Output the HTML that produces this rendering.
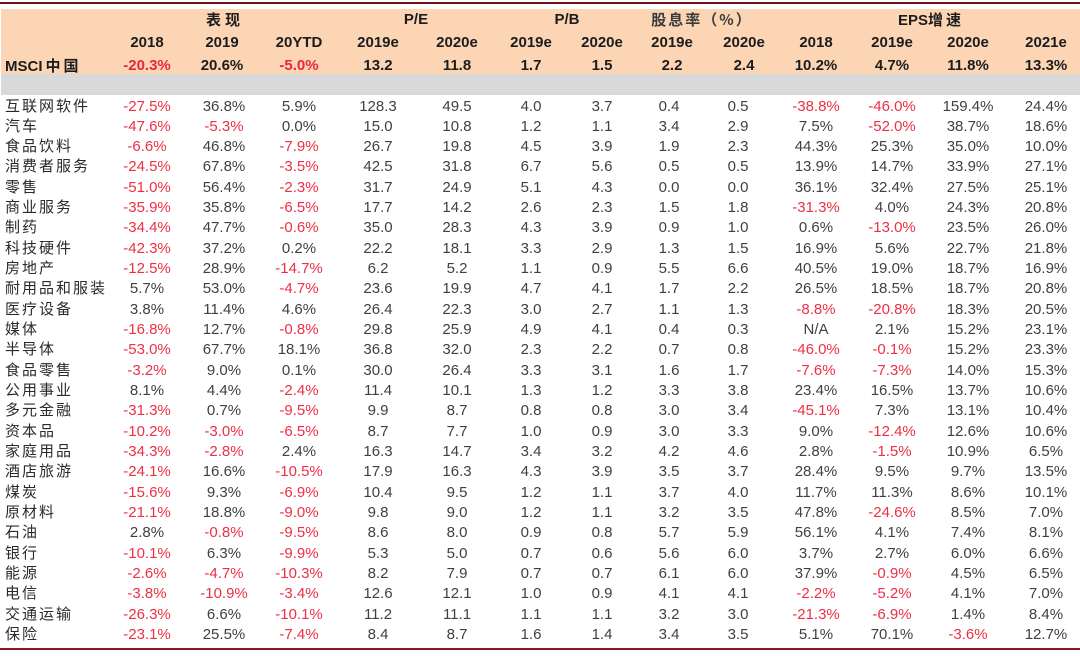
<!DOCTYPE html>
<html><head><meta charset="utf-8">
<style>
*{margin:0;padding:0;box-sizing:border-box}
html,body{width:1080px;height:656px;background:#fff;overflow:hidden}
body{position:relative;font-family:"Liberation Sans","Noto Sans CJK SC",sans-serif;font-size:15px;color:#404040}
.topline{position:absolute;left:0;top:2px;width:1080px;height:2px;background:#6e1417}
.botline{position:absolute;left:0;top:648px;width:1080px;height:2px;background:#8a1c1e}
.peach{position:absolute;left:1px;top:9px;width:1079px;height:65px;background:#fcd5b5}
.gray{position:absolute;left:1px;top:74px;width:1079px;height:21px;background:#d9d9d9}
.row{position:absolute;left:0;width:1080px;height:20px;line-height:20px}
.row > span{position:absolute;top:0;width:80px;text-align:center;white-space:nowrap}
.row > span.l{left:5px;top:-1px;width:auto;text-align:left;letter-spacing:2px;color:#2a2a2a;font-family:"Noto Sans CJK SC","Liberation Sans",sans-serif}
.c1{left:107px}.c2{left:184px}.c3{left:259px}.c4{left:338px}.c5{left:417px}.c6{left:491px}.c7{left:562px}.c8{left:629px}.c9{left:698px}.c10{left:776px}.c11{left:852px}.c12{left:928px}.c13{left:1006px}
.r{color:#ee2f44}
.h{font-weight:bold;color:#1c1c1c}
.h .c2{left:182px}.h .c8{left:632px}.h .c9{left:704px}
.h .r{color:#e8283a}
.h > span.l{top:0;font-family:"Liberation Sans","Noto Sans CJK SC",sans-serif;letter-spacing:0;color:#1c1c1c}
.h span.zh{font-family:"Noto Sans CJK SC",sans-serif;letter-spacing:3px;font-weight:bold;margin-left:3px}
.g{position:absolute;top:10px;height:20px;line-height:20px;font-weight:bold;color:#1c1c1c;text-align:center;white-space:nowrap}
.cj{letter-spacing:4px}
</style></head><body>
<div class="topline"></div>
<div class="peach"></div>
<div class="gray"></div>

<div class="g" style="left:183px;width:80px"><span class="cj" style="font-family:'Noto Sans CJK SC',sans-serif;margin-right:-4px">表现</span></div>
<div class="g" style="left:376px;width:80px">P/E</div>
<div class="g" style="left:527px;width:80px">P/B</div>
<div class="g" style="left:642px;width:120px;color:#3a3a3a"><span style="font-family:'Noto Sans CJK SC',sans-serif;letter-spacing:2px">股息率（%）</span></div>
<div class="g" style="left:871px;width:120px">EPS<span style="font-family:'Noto Sans CJK SC',sans-serif;letter-spacing:3px">增速</span></div>

<div class="row h" style="top:32.5px"><span class="c1">2018</span><span class="c2">2019</span><span class="c3">20YTD</span><span class="c4">2019e</span><span class="c5">2020e</span><span class="c6">2019e</span><span class="c7">2020e</span><span class="c8">2019e</span><span class="c9">2020e</span><span class="c10">2018</span><span class="c11">2019e</span><span class="c12">2020e</span><span class="c13">2021e</span></div>
<div class="row h" style="top:56px"><span class="l">MSCI<span class="zh">中国</span></span><span class="c1 r">-20.3%</span><span class="c2">20.6%</span><span class="c3 r">-5.0%</span><span class="c4">13.2</span><span class="c5">11.8</span><span class="c6">1.7</span><span class="c7">1.5</span><span class="c8">2.2</span><span class="c9">2.4</span><span class="c10">10.2%</span><span class="c11">4.7%</span><span class="c12">11.8%</span><span class="c13">13.3%</span></div>

<div class="row" style="top:96.5px"><span class="l">互联网软件</span><span class="c1 r">-27.5%</span><span class="c2">36.8%</span><span class="c3">5.9%</span><span class="c4">128.3</span><span class="c5">49.5</span><span class="c6">4.0</span><span class="c7">3.7</span><span class="c8">0.4</span><span class="c9">0.5</span><span class="c10 r">-38.8%</span><span class="c11 r">-46.0%</span><span class="c12">159.4%</span><span class="c13">24.4%</span></div>
<div class="row" style="top:116.83px"><span class="l">汽车</span><span class="c1 r">-47.6%</span><span class="c2 r">-5.3%</span><span class="c3">0.0%</span><span class="c4">15.0</span><span class="c5">10.8</span><span class="c6">1.2</span><span class="c7">1.1</span><span class="c8">3.4</span><span class="c9">2.9</span><span class="c10">7.5%</span><span class="c11 r">-52.0%</span><span class="c12">38.7%</span><span class="c13">18.6%</span></div>
<div class="row" style="top:137.16px"><span class="l">食品饮料</span><span class="c1 r">-6.6%</span><span class="c2">46.8%</span><span class="c3 r">-7.9%</span><span class="c4">26.7</span><span class="c5">19.8</span><span class="c6">4.5</span><span class="c7">3.9</span><span class="c8">1.9</span><span class="c9">2.3</span><span class="c10">44.3%</span><span class="c11">25.3%</span><span class="c12">35.0%</span><span class="c13">10.0%</span></div>
<div class="row" style="top:157.49px"><span class="l">消费者服务</span><span class="c1 r">-24.5%</span><span class="c2">67.8%</span><span class="c3 r">-3.5%</span><span class="c4">42.5</span><span class="c5">31.8</span><span class="c6">6.7</span><span class="c7">5.6</span><span class="c8">0.5</span><span class="c9">0.5</span><span class="c10">13.9%</span><span class="c11">14.7%</span><span class="c12">33.9%</span><span class="c13">27.1%</span></div>
<div class="row" style="top:177.82px"><span class="l">零售</span><span class="c1 r">-51.0%</span><span class="c2">56.4%</span><span class="c3 r">-2.3%</span><span class="c4">31.7</span><span class="c5">24.9</span><span class="c6">5.1</span><span class="c7">4.3</span><span class="c8">0.0</span><span class="c9">0.0</span><span class="c10">36.1%</span><span class="c11">32.4%</span><span class="c12">27.5%</span><span class="c13">25.1%</span></div>
<div class="row" style="top:198.15px"><span class="l">商业服务</span><span class="c1 r">-35.9%</span><span class="c2">35.8%</span><span class="c3 r">-6.5%</span><span class="c4">17.7</span><span class="c5">14.2</span><span class="c6">2.6</span><span class="c7">2.3</span><span class="c8">1.5</span><span class="c9">1.8</span><span class="c10 r">-31.3%</span><span class="c11">4.0%</span><span class="c12">24.3%</span><span class="c13">20.8%</span></div>
<div class="row" style="top:218.48px"><span class="l">制药</span><span class="c1 r">-34.4%</span><span class="c2">47.7%</span><span class="c3 r">-0.6%</span><span class="c4">35.0</span><span class="c5">28.3</span><span class="c6">4.3</span><span class="c7">3.9</span><span class="c8">0.9</span><span class="c9">1.0</span><span class="c10">0.6%</span><span class="c11 r">-13.0%</span><span class="c12">23.5%</span><span class="c13">26.0%</span></div>
<div class="row" style="top:238.81px"><span class="l">科技硬件</span><span class="c1 r">-42.3%</span><span class="c2">37.2%</span><span class="c3">0.2%</span><span class="c4">22.2</span><span class="c5">18.1</span><span class="c6">3.3</span><span class="c7">2.9</span><span class="c8">1.3</span><span class="c9">1.5</span><span class="c10">16.9%</span><span class="c11">5.6%</span><span class="c12">22.7%</span><span class="c13">21.8%</span></div>
<div class="row" style="top:259.14px"><span class="l">房地产</span><span class="c1 r">-12.5%</span><span class="c2">28.9%</span><span class="c3 r">-14.7%</span><span class="c4">6.2</span><span class="c5">5.2</span><span class="c6">1.1</span><span class="c7">0.9</span><span class="c8">5.5</span><span class="c9">6.6</span><span class="c10">40.5%</span><span class="c11">19.0%</span><span class="c12">18.7%</span><span class="c13">16.9%</span></div>
<div class="row" style="top:279.47px"><span class="l">耐用品和服装</span><span class="c1">5.7%</span><span class="c2">53.0%</span><span class="c3 r">-4.7%</span><span class="c4">23.6</span><span class="c5">19.9</span><span class="c6">4.7</span><span class="c7">4.1</span><span class="c8">1.7</span><span class="c9">2.2</span><span class="c10">26.5%</span><span class="c11">18.5%</span><span class="c12">18.7%</span><span class="c13">20.8%</span></div>
<div class="row" style="top:299.8px"><span class="l">医疗设备</span><span class="c1">3.8%</span><span class="c2">11.4%</span><span class="c3">4.6%</span><span class="c4">26.4</span><span class="c5">22.3</span><span class="c6">3.0</span><span class="c7">2.7</span><span class="c8">1.1</span><span class="c9">1.3</span><span class="c10 r">-8.8%</span><span class="c11 r">-20.8%</span><span class="c12">18.3%</span><span class="c13">20.5%</span></div>
<div class="row" style="top:320.13px"><span class="l">媒体</span><span class="c1 r">-16.8%</span><span class="c2">12.7%</span><span class="c3 r">-0.8%</span><span class="c4">29.8</span><span class="c5">25.9</span><span class="c6">4.9</span><span class="c7">4.1</span><span class="c8">0.4</span><span class="c9">0.3</span><span class="c10">N/A</span><span class="c11">2.1%</span><span class="c12">15.2%</span><span class="c13">23.1%</span></div>
<div class="row" style="top:340.46px"><span class="l">半导体</span><span class="c1 r">-53.0%</span><span class="c2">67.7%</span><span class="c3">18.1%</span><span class="c4">36.8</span><span class="c5">32.0</span><span class="c6">2.3</span><span class="c7">2.2</span><span class="c8">0.7</span><span class="c9">0.8</span><span class="c10 r">-46.0%</span><span class="c11 r">-0.1%</span><span class="c12">15.2%</span><span class="c13">23.3%</span></div>
<div class="row" style="top:360.79px"><span class="l">食品零售</span><span class="c1 r">-3.2%</span><span class="c2">9.0%</span><span class="c3">0.1%</span><span class="c4">30.0</span><span class="c5">26.4</span><span class="c6">3.3</span><span class="c7">3.1</span><span class="c8">1.6</span><span class="c9">1.7</span><span class="c10 r">-7.6%</span><span class="c11 r">-7.3%</span><span class="c12">14.0%</span><span class="c13">15.3%</span></div>
<div class="row" style="top:381.12px"><span class="l">公用事业</span><span class="c1">8.1%</span><span class="c2">4.4%</span><span class="c3 r">-2.4%</span><span class="c4">11.4</span><span class="c5">10.1</span><span class="c6">1.3</span><span class="c7">1.2</span><span class="c8">3.3</span><span class="c9">3.8</span><span class="c10">23.4%</span><span class="c11">16.5%</span><span class="c12">13.7%</span><span class="c13">10.6%</span></div>
<div class="row" style="top:401.45px"><span class="l">多元金融</span><span class="c1 r">-31.3%</span><span class="c2">0.7%</span><span class="c3 r">-9.5%</span><span class="c4">9.9</span><span class="c5">8.7</span><span class="c6">0.8</span><span class="c7">0.8</span><span class="c8">3.0</span><span class="c9">3.4</span><span class="c10 r">-45.1%</span><span class="c11">7.3%</span><span class="c12">13.1%</span><span class="c13">10.4%</span></div>
<div class="row" style="top:421.78px"><span class="l">资本品</span><span class="c1 r">-10.2%</span><span class="c2 r">-3.0%</span><span class="c3 r">-6.5%</span><span class="c4">8.7</span><span class="c5">7.7</span><span class="c6">1.0</span><span class="c7">0.9</span><span class="c8">3.0</span><span class="c9">3.3</span><span class="c10">9.0%</span><span class="c11 r">-12.4%</span><span class="c12">12.6%</span><span class="c13">10.6%</span></div>
<div class="row" style="top:442.11px"><span class="l">家庭用品</span><span class="c1 r">-34.3%</span><span class="c2 r">-2.8%</span><span class="c3">2.4%</span><span class="c4">16.3</span><span class="c5">14.7</span><span class="c6">3.4</span><span class="c7">3.2</span><span class="c8">4.2</span><span class="c9">4.6</span><span class="c10">2.8%</span><span class="c11 r">-1.5%</span><span class="c12">10.9%</span><span class="c13">6.5%</span></div>
<div class="row" style="top:462.44px"><span class="l">酒店旅游</span><span class="c1 r">-24.1%</span><span class="c2">16.6%</span><span class="c3 r">-10.5%</span><span class="c4">17.9</span><span class="c5">16.3</span><span class="c6">4.3</span><span class="c7">3.9</span><span class="c8">3.5</span><span class="c9">3.7</span><span class="c10">28.4%</span><span class="c11">9.5%</span><span class="c12">9.7%</span><span class="c13">13.5%</span></div>
<div class="row" style="top:482.77px"><span class="l">煤炭</span><span class="c1 r">-15.6%</span><span class="c2">9.3%</span><span class="c3 r">-6.9%</span><span class="c4">10.4</span><span class="c5">9.5</span><span class="c6">1.2</span><span class="c7">1.1</span><span class="c8">3.7</span><span class="c9">4.0</span><span class="c10">11.7%</span><span class="c11">11.3%</span><span class="c12">8.6%</span><span class="c13">10.1%</span></div>
<div class="row" style="top:503.1px"><span class="l">原材料</span><span class="c1 r">-21.1%</span><span class="c2">18.8%</span><span class="c3 r">-9.0%</span><span class="c4">9.8</span><span class="c5">9.0</span><span class="c6">1.2</span><span class="c7">1.1</span><span class="c8">3.2</span><span class="c9">3.5</span><span class="c10">47.8%</span><span class="c11 r">-24.6%</span><span class="c12">8.5%</span><span class="c13">7.0%</span></div>
<div class="row" style="top:523.43px"><span class="l">石油</span><span class="c1">2.8%</span><span class="c2 r">-0.8%</span><span class="c3 r">-9.5%</span><span class="c4">8.6</span><span class="c5">8.0</span><span class="c6">0.9</span><span class="c7">0.8</span><span class="c8">5.7</span><span class="c9">5.9</span><span class="c10">56.1%</span><span class="c11">4.1%</span><span class="c12">7.4%</span><span class="c13">8.1%</span></div>
<div class="row" style="top:543.76px"><span class="l">银行</span><span class="c1 r">-10.1%</span><span class="c2">6.3%</span><span class="c3 r">-9.9%</span><span class="c4">5.3</span><span class="c5">5.0</span><span class="c6">0.7</span><span class="c7">0.6</span><span class="c8">5.6</span><span class="c9">6.0</span><span class="c10">3.7%</span><span class="c11">2.7%</span><span class="c12">6.0%</span><span class="c13">6.6%</span></div>
<div class="row" style="top:564.09px"><span class="l">能源</span><span class="c1 r">-2.6%</span><span class="c2 r">-4.7%</span><span class="c3 r">-10.3%</span><span class="c4">8.2</span><span class="c5">7.9</span><span class="c6">0.7</span><span class="c7">0.7</span><span class="c8">6.1</span><span class="c9">6.0</span><span class="c10">37.9%</span><span class="c11 r">-0.9%</span><span class="c12">4.5%</span><span class="c13">6.5%</span></div>
<div class="row" style="top:584.42px"><span class="l">电信</span><span class="c1 r">-3.8%</span><span class="c2 r">-10.9%</span><span class="c3 r">-3.4%</span><span class="c4">12.6</span><span class="c5">12.1</span><span class="c6">1.0</span><span class="c7">0.9</span><span class="c8">4.1</span><span class="c9">4.1</span><span class="c10 r">-2.2%</span><span class="c11 r">-5.2%</span><span class="c12">4.1%</span><span class="c13">7.0%</span></div>
<div class="row" style="top:604.75px"><span class="l">交通运输</span><span class="c1 r">-26.3%</span><span class="c2">6.6%</span><span class="c3 r">-10.1%</span><span class="c4">11.2</span><span class="c5">11.1</span><span class="c6">1.1</span><span class="c7">1.1</span><span class="c8">3.2</span><span class="c9">3.0</span><span class="c10 r">-21.3%</span><span class="c11 r">-6.9%</span><span class="c12">1.4%</span><span class="c13">8.4%</span></div>
<div class="row" style="top:625.08px"><span class="l">保险</span><span class="c1 r">-23.1%</span><span class="c2">25.5%</span><span class="c3 r">-7.4%</span><span class="c4">8.4</span><span class="c5">8.7</span><span class="c6">1.6</span><span class="c7">1.4</span><span class="c8">3.4</span><span class="c9">3.5</span><span class="c10">5.1%</span><span class="c11">70.1%</span><span class="c12 r">-3.6%</span><span class="c13">12.7%</span></div>

<div class="botline"></div>
</body></html>
